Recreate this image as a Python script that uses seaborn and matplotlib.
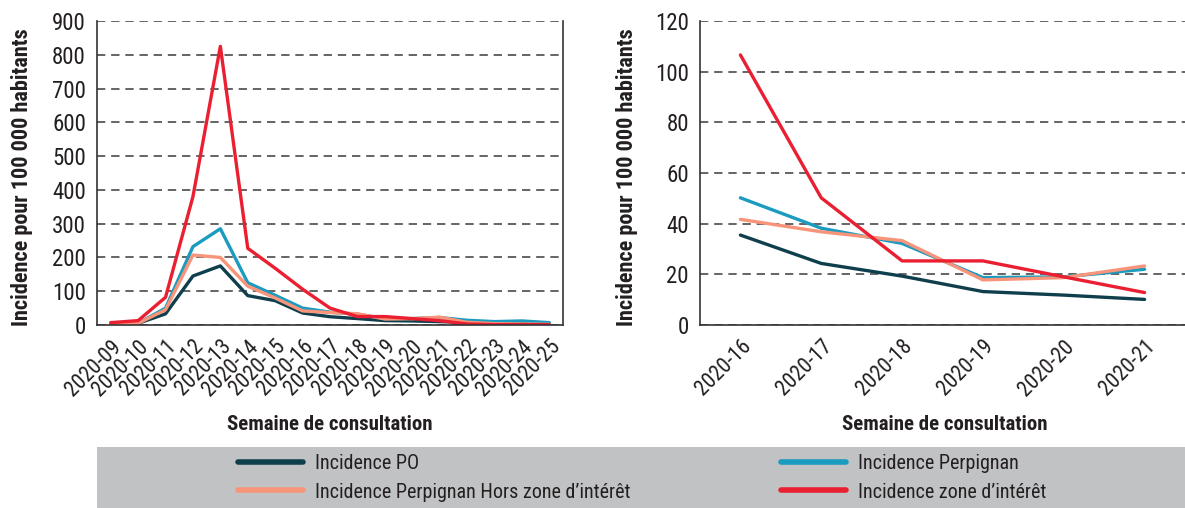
import pandas as pd
import matplotlib.pyplot as plt
import seaborn as sns
from matplotlib.patches import Rectangle
from matplotlib.lines import Line2D

# data
weeks_all = ["2020-09", "2020-10", "2020-11", "2020-12", "2020-13", "2020-14", "2020-15",
             "2020-16", "2020-17", "2020-18", "2020-19", "2020-20", "2020-21", "2020-22",
             "2020-23", "2020-24", "2020-25"]
po_all = [3, 5, 33, 145, 175, 87, 72, 35.5, 24.5, 19, 13, 12, 10, 8, 6, 6, 5]
perp_all = [3, 5, 50, 232, 285, 125, 88, 50, 38, 32, 18.7, 19, 22, 14, 10, 12, 7]
hors_all = [3, 5, 45, 207, 200, 115, 80, 41.7, 36.8, 33.3, 17.8, 18.7, 23.3, 8, 4, 3, 2]
zone_all = [7, 13, 82, 380, 825, 227, 168, 106, 50, 25, 25, 19, 12.8, 3, 1, 1, 1]

weeks_zoom = ["2020-16", "2020-17", "2020-18", "2020-19", "2020-20", "2020-21"]
po_zoom = [35.5, 24.3, 19.3, 13.2, 11.8, 10.1]
perp_zoom = [50.2, 38.2, 32.2, 18.7, 19, 22]
hors_zoom = [41.7, 36.8, 33.3, 17.8, 18.7, 23.3]
zone_zoom = [106.6, 50.2, 25.3, 25.3, 19, 12.8]

series = ["Incidence PO", "Incidence Perpignan",
          "Incidence Perpignan Hors zone d\u2019int\u00e9r\u00eat", "Incidence zone d\u2019int\u00e9r\u00eat"]
colors = ["#0f3f4c", "#1b9bbf", "#f79479", "#ea1f31"]
palette = dict(zip(series, colors))


def long_df(weeks, vals):
    rows = []
    for name, v in zip(series, vals):
        for w, y in zip(weeks, v):
            rows.append({"semaine": w, "serie": name, "val": y})
    return pd.DataFrame(rows)


df_all = long_df(weeks_all, [po_all, perp_all, hors_all, zone_all])
df_zoom = long_df(weeks_zoom, [po_zoom, perp_zoom, hors_zoom, zone_zoom])

sns.set_style("white")
plt.rcParams["font.family"] = ["Liberation Sans Narrow", "Roboto Condensed", "Liberation Sans", "DejaVu Sans"]
txt = "#231f20"

W, H = 1185, 508
fig = plt.figure(figsize=(W / 100, H / 100), dpi=100)
ax1 = fig.add_axes([97 / W, (H - 325) / H, 466 / W, 304 / H])
ax2 = fig.add_axes([700 / W, (H - 325) / H, 485 / W, 304 / H])

# legend band
fig.patches.append(Rectangle((97 / W, 0), 1 - 97 / W, 61 / H, transform=fig.transFigure,
                             facecolor="#c1c2c4", edgecolor="none", zorder=0))


def draw(ax, df, weeks, ymax, ystep, xmax):
    for s in series:
        sns.lineplot(data=df[df.serie == s], x="semaine", y="val", color=palette[s],
                     lw=2.4, sort=False, ax=ax, legend=False)
    ax.set_xlim(-0.5, xmax)
    ax.set_ylim(0, ymax)
    ax.set_yticks(range(0, ymax + 1, ystep))
    ax.set_xticks(range(len(weeks)))
    ax.set_xticklabels(weeks, rotation=45, ha="right", rotation_mode="anchor", fontsize=15.5, color=txt)
    ax.set_xticks([i - 0.5 for i in range(len(weeks) + 1)], minor=True)
    ax.tick_params(axis="x", which="major", length=0, pad=8)
    ax.tick_params(axis="x", which="minor", length=6, width=1.2, color="#333333", direction="out")
    ax.tick_params(axis="y", length=6, width=1.2, color="#333333", direction="out", labelsize=16.5,
                   labelcolor=txt, pad=2)
    ax.yaxis.grid(True, ls=(0, (5, 3.5)), color="#4a4a4a", lw=1.2)
    ax.set_axisbelow(True)
    for sp in ax.spines.values():
        sp.set_color("#333333")
        sp.set_linewidth(1.2)
    ax.spines["top"].set_visible(False)
    ax.set_xlabel("Semaine de consultation", fontsize=15, fontweight="bold", color=txt)
    ax.set_ylabel("Incidence pour 100 000 habitants", fontsize=16, fontweight="bold", color=txt)


draw(ax1, df_all, weeks_all, 900, 100, 16.5)
draw(ax2, df_zoom, weeks_zoom, 120, 20, 5.45)
ax2.spines["right"].set_visible(False)

ax1.xaxis.set_label_coords(0.5, -0.295)
ax2.xaxis.set_label_coords((945 - 700) / 485, -0.295)
ax1.yaxis.set_label_coords(-0.138, 0.485)
ax2.yaxis.set_label_coords(-0.128, 0.485)

# legend, two columns
handles = [Line2D([], [], color=c, lw=4) for c in colors]
leg1 = fig.legend([handles[0], handles[2]], [series[0], series[2]], loc="center left",
                  bbox_to_anchor=(220 / W, 30 / H), frameon=False, handlelength=3.2,
                  handletextpad=0.6, fontsize=14.5, labelspacing=0.45, labelcolor=txt)
leg2 = fig.legend([handles[1], handles[3]], [series[1], series[3]], loc="center left",
                  bbox_to_anchor=(763 / W, 30 / H), frameon=False, handlelength=3.2,
                  handletextpad=0.6, fontsize=14.5, labelspacing=0.45, labelcolor=txt)

fig.savefig("out.png", dpi=100)
